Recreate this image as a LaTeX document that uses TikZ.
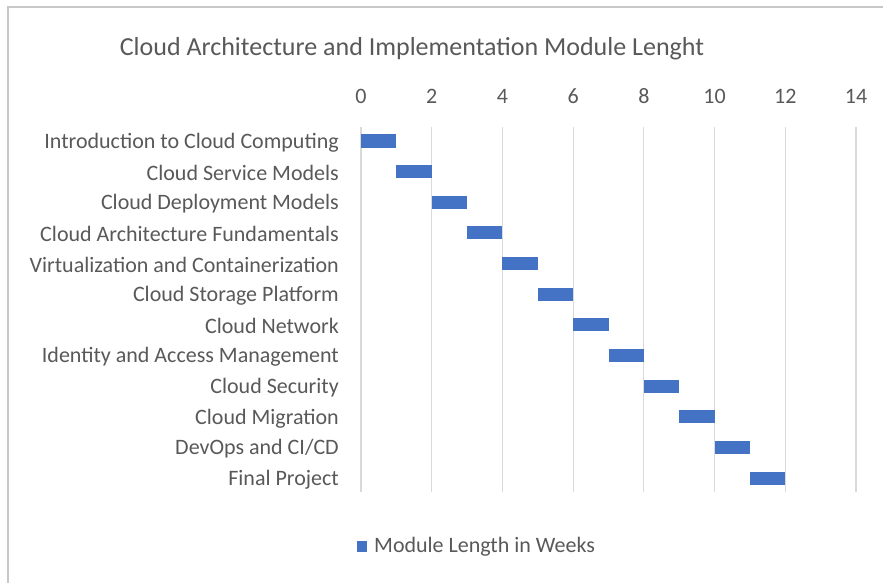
\documentclass[tikz,border=0pt]{standalone}
\usepackage{fontspec}
\setmainfont{Carlito}
\definecolor{txt}{HTML}{595959}
\definecolor{grid}{HTML}{D9D9D9}
\definecolor{bar}{HTML}{4472C4}
\definecolor{frame}{HTML}{C8C8C8}
\begin{document}
\begin{tikzpicture}[x=1pt,y=-1pt,
  lbl/.style={anchor=east,text=txt,font=\fontsize{22}{24}\selectfont,inner sep=0pt},
  tick/.style={anchor=center,text=txt,font=\fontsize{22}{24}\selectfont,inner sep=0pt},
  barbox/.style={fill=bar,draw=none},
  gridline/.style={draw=grid,line width=1.2pt}]
\useasboundingbox (0,0) rectangle (883,583);
\fill[white] (0,0) rectangle (883,583);
\draw[frame,line width=1.5pt] (8,590) -- (8,7) -- (890,7);
\node[text=txt,font=\fontsize{26}{28}\selectfont,inner sep=0pt] (title) at (412,49) {Cloud Architecture and Implementation Module Lenght};
\foreach \v in {0,2,...,14}{
  \draw[gridline] ({361+35.36*\v},127) -- ({361+35.36*\v},492);
  \node[tick] (t\v) at ({361+35.36*\v},96) {\v};
}
\foreach \i/\name in {1/{Introduction to Cloud Computing},2/{Cloud Service Models},3/{Cloud Deployment Models},4/{Cloud Architecture Fundamentals},5/{Virtualization and Containerization},6/{Cloud Storage Platform},7/{Cloud Network},8/{Identity and Access Management},9/{Cloud Security},10/{Cloud Migration},11/{DevOps and CI/CD},12/{Final Project}}{
  \pgfmathsetmacro{\yc}{141+30.64*(\i-1)}
  \node[lbl] (l\i) at (339,\yc+1.5) {\name};
  \fill[barbox] ({361+35.36*(\i-1)},\yc-6.5) rectangle ({361+35.36*\i},\yc+6.5);
}
\fill[bar] (357,541) rectangle (367,552);
\node[anchor=west,text=txt,font=\fontsize{22}{24}\selectfont,inner sep=0pt] (leg) at (374,547) {Module Length in Weeks};
\end{tikzpicture}
\end{document}
